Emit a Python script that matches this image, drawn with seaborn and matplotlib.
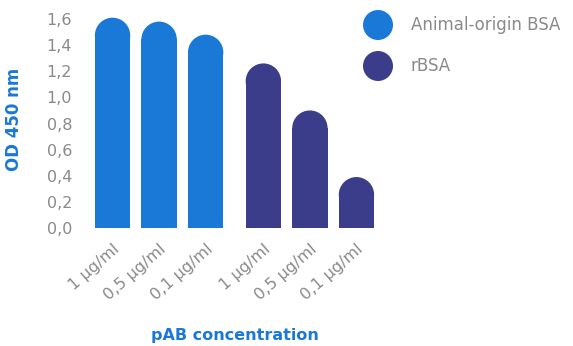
import matplotlib
matplotlib.use("Agg")
import matplotlib.pyplot as plt
from matplotlib.patches import Ellipse
from matplotlib.transforms import ScaledTranslation
import seaborn as sns
import pandas as pd
import numpy as np

groups = ["Animal-origin BSA", "Animal-origin BSA", "Animal-origin BSA", "rBSA", "rBSA", "rBSA"]
concentrations = ["1 µg/ml", "0,5 µg/ml", "0,1 µg/ml", "1 µg/ml", "0,5 µg/ml", "0,1 µg/ml"]
od_values = [1.61, 1.58, 1.48, 1.26, 0.90, 0.39]
series_names = ["Animal-origin BSA", "rBSA"]
series_colors = ["#1a78d6", "#3b3d8a"]
y_ticks = [0.0, 0.2, 0.4, 0.6, 0.8, 1.0, 1.2, 1.4, 1.6]
y_tick_labels = ["0,0", "0,2", "0,4", "0,6", "0,8", "1,0", "1,2", "1,4", "1,6"]

sns.set_theme(style="white")
plt.rcParams["font.family"] = ["DejaVu Sans"]

W, H, DPI = 5.73, 3.46, 100
fig = plt.figure(figsize=(W, H), dpi=DPI)
ax = fig.add_axes([93 / 573, 1 - 228 / 346, (376 - 93) / 573, (228 - 19) / 346])

# x positions: one slot per bar, extra gap between the two series
gap = 0.24
pos = [i + gap * series_names.index(g) for i, g in enumerate(groups)]
df = pd.DataFrame({"pos": pos, "od": od_values, "group": groups})

sns.barplot(data=df, x="pos", y="od", hue="group", hue_order=series_names,
            palette=series_colors, native_scale=True, dodge=False, width=0.76,
            saturation=1, legend=False, ax=ax)

xmin, xmax = pos[0] - 0.42, pos[-1] + 0.42
ax.set_xlim(xmin, xmax)
ax.set_ylim(0, 1.6)

# rounded tops
ax_w_px = (376 - 93)
ax_h_px = (228 - 19)
x_per_px = (xmax - xmin) / ax_w_px
y_per_px = 1.6 / ax_h_px
for p in list(ax.patches):
    x0, w, h = p.get_x(), p.get_width(), p.get_height()
    ry = (w / 2) / x_per_px * y_per_px
    p.set_height(h - ry)
    p.set_linewidth(0)
    e = Ellipse((x0 + w / 2, h - ry), w, 2 * ry, facecolor=p.get_facecolor(),
                edgecolor="none", clip_on=False)
    ax.add_patch(e)

sns.despine(ax=ax, left=True, bottom=True)
ax.set_xticks(pos)
ax.set_xticklabels(concentrations, rotation=41, ha="right", rotation_mode="anchor",
                   fontsize=11.5, color="#8a8a8a")
shift = ScaledTranslation(5 / 100, 0, fig.dpi_scale_trans)
for lbl in ax.get_xticklabels():
    lbl.set_transform(lbl.get_transform() + shift)
ax.set_yticks(y_ticks)
ax.set_yticklabels(y_tick_labels, fontsize=11.5, color="#8a8a8a")
ax.tick_params(axis="y", length=0, pad=15)
ax.tick_params(axis="x", length=0, pad=10)

ax.set_xlabel("pAB concentration", fontsize=11.5, fontweight="bold", color="#1a78d6",
              labelpad=18)
ax.set_ylabel("OD 450 nm", fontsize=12, fontweight="bold", color="#1a78d6")
ax.yaxis.set_label_coords(-70 / 283, 0.52)

# legend
for i, (name, col) in enumerate(zip(series_names, series_colors)):
    yc = 1 - (25 + 41 * i) / 346
    fig.patches.append(Ellipse((378 / 573, yc), 30 / 573, 30 / 346, facecolor=col,
                               edgecolor="none", transform=fig.transFigure, figure=fig))
    fig.text(411 / 573, yc, name, fontsize=12, color="#8a8a8a", va="center", ha="left")

fig.savefig("out.png", dpi=DPI, facecolor="white")
